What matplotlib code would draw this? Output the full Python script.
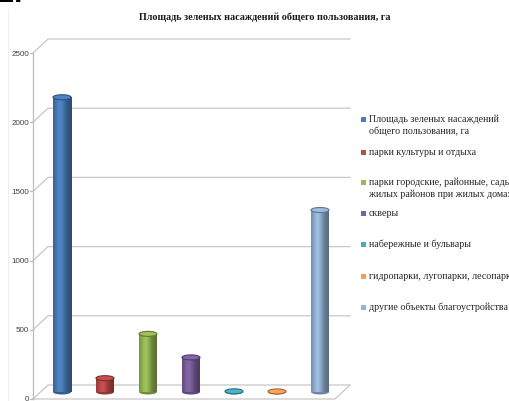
import numpy as np
import matplotlib.pyplot as plt
from matplotlib.patches import Ellipse, Rectangle
from matplotlib.colors import to_rgb

categories = ['Площадь зеленых насаждений\nобщего пользования, га',
              'парки культуры и отдыха',
              'парки городские, районные, сады\nжилых районов при жилых домах',
              'скверы',
              'набережные и бульвары',
              'гидропарки, лугопарки, лесопарки',
              'другие объекты благоустройства']
values = [2130, 100, 420, 250, 5, 4, 1315]
colors = ['#4a7ebb', '#be4b48', '#98b954', '#7d60a0', '#46aac5', '#f59d56', '#95b3d7']
yticks = [0, 500, 1000, 1500, 2000, 2500]
title = 'Площадь зеленых насаждений общего пользования, га'

W, H = 510, 402
fig = plt.figure(figsize=(W / 100, H / 100), dpi=100)
ax = fig.add_axes([0, 0, 1, 1])
# pixel mapping: x = 62 + 43*i, y = 400 - 0.1384*v
sx, sy = 43.0, 0.1384
xlim = ((0 - 62) / sx, (W - 62) / sx)
ylim = ((400 - H) / sy, 400 / sy)
ax.axis('off')

x0 = (33 - 62) / sx          # front axis
xb = (350 - 62) / sx         # back wall right end
dx, dy = 15 / sx, 14 / sy    # depth offset
grid = '#c8c8c8'

# back wall gridlines with side wall diagonals
for v in yticks:
    ax.plot([x0, x0 + dx, xb], [v, v + dy, v + dy], color=grid, lw=0.9, zorder=1)
# floor front edge and right edge
ax.plot([x0, xb - dx, xb], [0, 0, dy], color=grid, lw=0.9, zorder=1)
# value axis
ax.plot([x0, x0], [0, 2500], color='#bdbdbd', lw=0.9, zorder=2)
for v in yticks:
    ax.plot([x0 - 3 / sx, x0], [v, v], color='#bdbdbd', lw=0.9, zorder=2)
    ax.text(x0 - 4 / sx, v, str(v), ha='right', va='center', fontsize=5.8,
            family='Liberation Sans', color='#404040')

# cylinders
bw = 18 / sx
eh = 5 / sy
base = dy / 2
t = np.linspace(0, 1, 64)
shade = 0.72 + 0.38 * np.exp(-((t - 0.38) / 0.3) ** 2) - 0.12 * t
for i, (val, c) in enumerate(zip(values, colors)):
    rgb = np.array(to_rgb(c))
    top = base + val
    grad = np.clip(rgb[None, None, :] * shade[None, :, None], 0, 1)
    ax.add_patch(Ellipse((i, base), bw, eh, facecolor=np.clip(rgb * 0.75, 0, 1),
                         edgecolor='none', zorder=2.9))
    if val > 20:
        clip = Rectangle((i - bw / 2, base), bw, val, facecolor='none',
                         edgecolor='none', transform=ax.transData)
        ax.add_patch(clip)
        im = ax.imshow(grad, extent=[i - bw / 2, i + bw / 2, base, top],
                       aspect='auto', interpolation='bilinear', zorder=3)
        im.set_clip_path(clip)
    ax.add_patch(Ellipse((i, top), bw, eh, facecolor=np.clip(rgb * 1.05, 0, 1),
                         edgecolor=np.clip(rgb * 0.65, 0, 1), lw=0.8, zorder=4))

ax.set_xlim(xlim)
ax.set_ylim(ylim)

# title
fig.text(265 / W, 1 - 17 / H, title, ha='center', va='center', fontsize=7.3,
         fontweight='bold', family='Liberation Serif', color='#1a1a1a')

# legend
leg_y = [120, 153, 183, 214, 245, 277, 308]
for yy, lab, c in zip(leg_y, categories, colors):
    fig.patches.append(Rectangle((361 / W, 1 - (yy + 2.5) / H), 5 / W, 5 / H,
                                 facecolor=c, edgecolor='none',
                                 transform=fig.transFigure, figure=fig))
    fig.text(369 / W, 1 - (yy - 5) / H, lab, ha='left', va='top', fontsize=7.2,
             family='Liberation Serif', color='#262626', linespacing=1.3)

# chart border remnant and section number
fig.add_artist(plt.Line2D([8 / W, 8 / W], [0, 1 - 10 / H], color='#efefef', lw=0.8))
fig.text(-2 / W, 1 - 2 / H, '2.', ha='left', va='baseline', fontsize=21,
         fontweight='bold', family='Liberation Sans', color='black')

fig.savefig('out.png', dpi=100)
